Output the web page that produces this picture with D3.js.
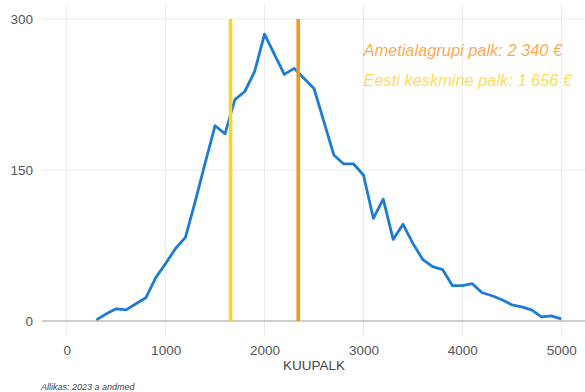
<!DOCTYPE html>
<html><head><meta charset="utf-8">
<script src="https://cdn.jsdelivr.net/npm/d3@7"></script>
<style>body{margin:0;background:#fff}svg{display:block}</style>
</head><body>
<svg id="c" width="585" height="392"></svg>
<script>
const salary = [300,400,500,600,700,800,900,1000,1100,1200,1300,1400,1500,1600,1700,1800,1900,2000,2100,2200,2300,2400,2500,2600,2700,2800,2900,3000,3100,3200,3300,3400,3500,3600,3700,3800,3900,4000,4100,4200,4300,4400,4500,4600,4700,4800,4900,5000];
const counts = [1,7,12,11,17,23,43,57,72,83,119,157,194,186,220,228,248,285,265,245,251,241,231,198,165,156,156,145,102,121,81,96,77,61,54,51,35,35,37,28,25,21,16,14,11,4,5,2];
const xTicks = [0,1000,2000,3000,4000,5000];
const yTicks = [0,150,300];
const refLines = [
  {value:1656, label:"Eesti keskmine palk: 1 656 €", color:"#FFD21F"},
  {value:2340, label:"Ametialagrupi palk: 2 340 €", color:"#F7941D"}
];
const xTitle = "KUUPALK";
const source = "Allikas: 2023 a andmed";

const svg = d3.select("#c");
const L = 42, R = 586, T = 4, B = 336;
const x = d3.scaleLinear().domain([-250,5250]).range([L,R]);
const y = d3.scaleLinear().domain([-15,315]).range([B,T]);

// grid
svg.append("g").selectAll("line").data(xTicks).join("line")
  .attr("x1",d=>x(d)).attr("x2",d=>x(d)).attr("y1",T).attr("y2",B)
  .attr("stroke","#ebebeb").attr("stroke-width",1);
svg.append("g").selectAll("line").data(yTicks.filter(d=>d!==0)).join("line")
  .attr("x1",L).attr("x2",R).attr("y1",d=>y(d)).attr("y2",d=>y(d))
  .attr("stroke","#ebebeb").attr("stroke-width",1);
svg.append("line").attr("x1",L).attr("x2",R).attr("y1",y(0)).attr("y2",y(0))
  .attr("stroke","#bdbdbd").attr("stroke-width",1.5);

// axes
const xAxis = d3.axisBottom(x).tickValues(xTicks).tickSize(0).tickPadding(9).tickFormat(d3.format("d"));
const gx = svg.append("g").attr("transform",`translate(0,${B})`).call(xAxis);
gx.select(".domain").remove();
gx.selectAll("text").attr("font-family","Liberation Sans, Arial, sans-serif").attr("font-size",13.5).attr("fill","#555");
const yAxis = d3.axisLeft(y).tickValues(yTicks).tickSize(0).tickPadding(9).tickFormat(d3.format("d"));
const gy = svg.append("g").attr("transform",`translate(${L},0)`).call(yAxis);
gy.select(".domain").remove();
gy.selectAll("text").attr("font-family","Liberation Sans, Arial, sans-serif").attr("font-size",13.5).attr("fill","#555");

// line
const data = salary.map((s,i)=>({s, c:counts[i]}));
svg.append("path").datum(data)
  .attr("d", d3.line().x(d=>x(d.s)).y(d=>y(d.c)))
  .attr("fill","none").attr("stroke","#1C7CD5").attr("stroke-width",2.8)
  .attr("stroke-linejoin","round");

// reference lines
svg.append("g").selectAll("line").data(refLines).join("line")
  .attr("x1",d=>x(d.value)).attr("x2",d=>x(d.value))
  .attr("y1",y(300)).attr("y2",y(0))
  .attr("stroke",d=>d.color).attr("stroke-width",3.5);

// annotations
const ann = [refLines[1], refLines[0]];
svg.append("g").selectAll("text").data(ann).join("text")
  .attr("x",x(3000)).attr("y",(d,i)=>56+i*30)
  .attr("font-family","Liberation Sans, Arial, sans-serif").attr("font-style","italic")
  .attr("font-size",16.4).attr("fill",d=>d.color).attr("fill-opacity",0.8)
  .text(d=>d.label);

svg.append("text").attr("x",x(2500)).attr("y",370).attr("text-anchor","middle")
  .attr("font-family","Liberation Sans, Arial, sans-serif").attr("font-size",13.5).attr("fill","#444")
  .text(xTitle);
svg.append("text").attr("x",41).attr("y",390)
  .attr("font-family","Liberation Sans, Arial, sans-serif").attr("font-style","italic")
  .attr("font-size",9).attr("fill","#444")
  .text(source);
</script>
</body></html>
